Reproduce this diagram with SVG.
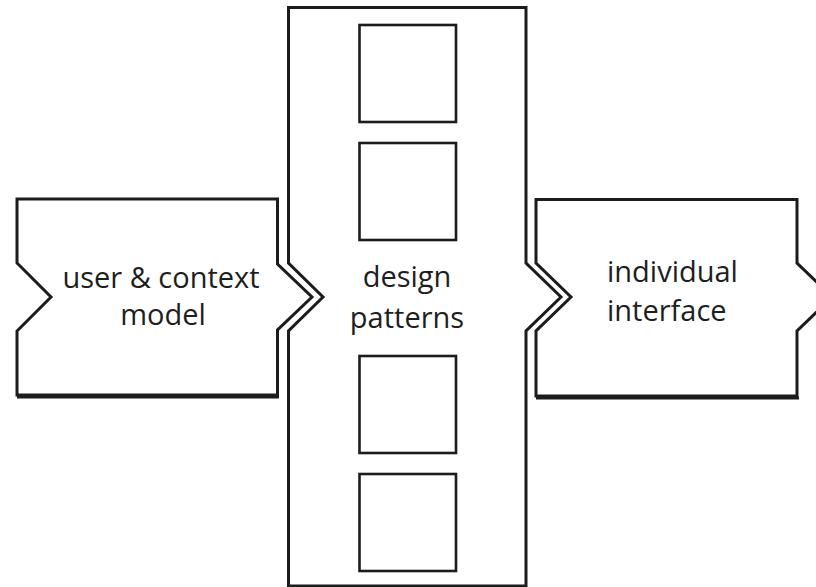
<svg xmlns="http://www.w3.org/2000/svg" width="816" height="587" viewBox="0 0 816 587">
  <style>
    .frame { fill: #ffffff; stroke: #1c1c1c; stroke-width: 3; stroke-linejoin: miter; }
    .slot { fill: #ffffff; stroke: #1c1c1c; stroke-width: 2.6; }
    .shade { fill: none; stroke: #1c1c1c; stroke-width: 3; }
    .label { font-family: "Open Sans", "Liberation Sans", sans-serif; font-size: 29px; fill: #1e1e1e; }
  </style>
  <rect width="816" height="587" fill="#ffffff"/>

  <!-- input block: user & context model -->
  <g id="user-context-model">
    <polygon class="frame" points="17,199 277.5,199 277.5,264 312,297 277.5,330 277.5,395 17,395 17,331 51,297 17,263"/>
    <line class="shade" x1="17" y1="397" x2="279" y2="397"/>
    <text class="label" x="161" y="288" text-anchor="middle">user &amp; context</text>
    <text class="label" x="163" y="325" text-anchor="middle">model</text>
  </g>

  <!-- central column: design patterns -->
  <g id="design-patterns">
    <polygon class="frame" points="288.5,7.5 526,7.5 526,263 561,297 526,331 526,586 288.5,586 288.5,331 323,297 288.5,263"/>
    <rect class="slot" x="359.5" y="25" width="96.5" height="97"/>
    <rect class="slot" x="359.5" y="143" width="96.5" height="97"/>
    <rect class="slot" x="359.5" y="356" width="96.5" height="97"/>
    <rect class="slot" x="359.5" y="474" width="96.5" height="97"/>
    <text class="label" x="407" y="287" text-anchor="middle">design</text>
    <text class="label" x="407" y="328" text-anchor="middle">patterns</text>
  </g>

  <!-- output block: individual interface -->
  <g id="individual-interface">
    <polygon class="frame" points="536,199.5 797,199.5 797,263 832,297 797,331 797,396 536,396 536,331 571,297 536,263"/>
    <line class="shade" x1="536" y1="398" x2="799" y2="398"/>
    <text class="label" x="607" y="282">individual</text>
    <text class="label" x="607" y="321">interface</text>
  </g>

  <g id="connectors"></g>
</svg>
